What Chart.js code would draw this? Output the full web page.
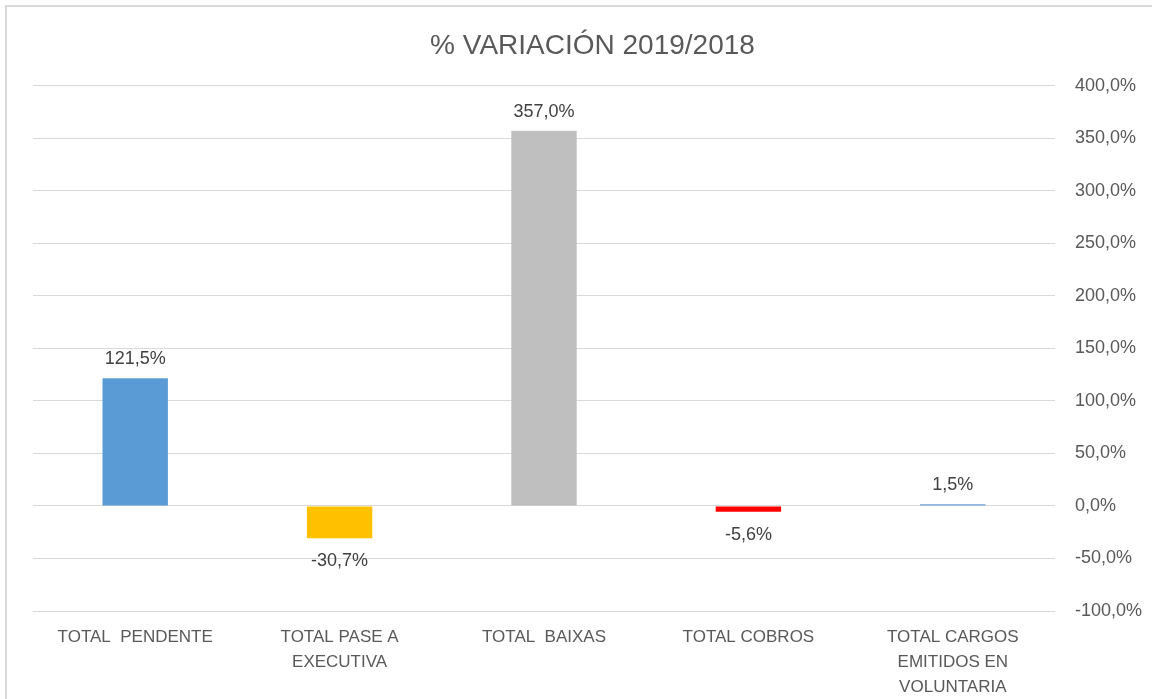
<!DOCTYPE html>
<html lang="es">
<head>
  <meta charset="UTF-8" />
  <title>% Variación 2019/2018</title>
  <script src="https://cdn.jsdelivr.net/npm/chart.js"></script>
  <style>
    body {
      margin: 0;
      background: #ffffff;
      overflow: hidden;
    }
    .wrap {
      position: relative;
      width: 1152px;
      height: 699px;
    }
    .frame {
      position: absolute;
      left: 5px;
      top: 5px;
      right: -10px;
      bottom: -10px;
      border-top: 2px solid #d9d9d9;
      border-left: 2px solid #d9d9d9;
      pointer-events: none;
    }
    canvas {
      position: absolute;
      left: 0;
      top: 0;
    }
  </style>
</head>
<body>
  <div class="wrap">
    <canvas id="chart" width="1152" height="699"></canvas>
    <div class="frame"></div>
  </div>

  <script>
    const categories = [
      'TOTAL  PENDENTE',
      ['TOTAL PASE A', 'EXECUTIVA'],
      'TOTAL  BAIXAS',
      'TOTAL COBROS',
      ['TOTAL CARGOS', 'EMITIDOS EN', 'VOLUNTARIA']
    ];
    const variation = [121.5, -30.7, 357.0, -5.6, 1.5];
    const barColors = ['#5b9bd5', '#ffc000', '#bfbfbf', '#ff0000', '#6f9fd8'];
    const yMin = -100, yMax = 400, yStep = 50;

    const FONT = "'Liberation Sans', Arial, sans-serif";
    const fmt = v => v.toFixed(1).replace('.', ',') + '%';

    // value labels above/below each bar
    const valueLabels = {
      id: 'valueLabels',
      afterDatasetsDraw(chart) {
        const ctx = chart.ctx;
        const meta = chart.getDatasetMeta(0);
        ctx.save();
        ctx.font = '18px ' + FONT;
        ctx.fillStyle = '#404040';
        ctx.textAlign = 'center';
        meta.data.forEach((bar, i) => {
          const v = variation[i];
          if (v >= 0) {
            ctx.textBaseline = 'bottom';
            ctx.fillText(fmt(v), bar.x, bar.y - 10);
          } else {
            ctx.textBaseline = 'top';
            ctx.fillText(fmt(v), bar.x, bar.y + 14);
          }
        });
        ctx.restore();
      }
    };

    new Chart(document.getElementById('chart'), {
      type: 'bar',
      data: {
        labels: categories,
        datasets: [{
          data: variation,
          backgroundColor: barColors,
          categoryPercentage: 1,
          barPercentage: 0.32
        }]
      },
      options: {
        responsive: false,
        animation: false,
        layout: { padding: { left: 33, right: 0, top: 0, bottom: 0 } },
        plugins: {
          legend: { display: false },
          tooltip: { enabled: false },
          title: {
            display: true,
            text: '% VARIACIÓN 2019/2018',
            color: '#595959',
            font: { family: FONT, size: 28, weight: 'normal' },
            padding: { top: 29, bottom: 23 }
          }
        },
        scales: {
          x: {
            grid: { display: false },
            border: { display: false },
            ticks: {
              color: '#595959',
              font: { family: FONT, size: 17, lineHeight: 1.47 },
              maxRotation: 0,
              autoSkip: false,
              padding: 6
            },
            afterFit(scale) { scale.height = 88; }
          },
          y: {
            position: 'right',
            min: yMin,
            max: yMax,
            grid: { color: '#d9d9d9', drawTicks: false },
            border: { display: false },
            ticks: {
              stepSize: yStep,
              color: '#595959',
              font: { family: FONT, size: 18 },
              padding: 20,
              callback: v => fmt(v)
            },
            afterFit(scale) { scale.width = 97; }
          }
        }
      },
      plugins: [valueLabels]
    });
  </script>
</body>
</html>
